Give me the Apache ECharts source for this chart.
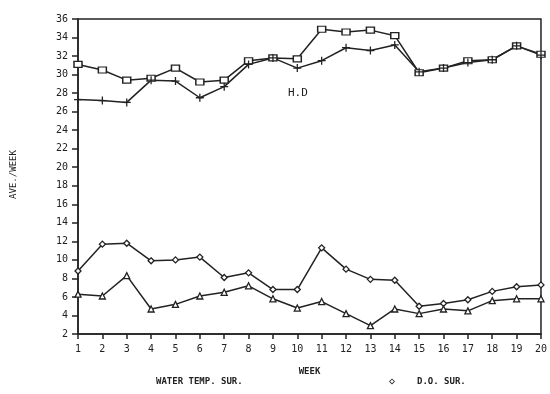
<!DOCTYPE html>
<html>
<head>
<meta charset="utf-8">
<script src="https://cdn.jsdelivr.net/npm/echarts@6/dist/echarts.min.js"></script>
<style>html,body{margin:0;padding:0;background:#fff;}#c{width:550px;height:394px;}</style>
</head>
<body>
<div id="c"></div>
<script>
var weeks = [1,2,3,4,5,6,7,8,9,10,11,12,13,14,15,16,17,18,19,20];
var seriesSquare = [31.1,30.5,29.4,29.6,30.7,29.2,29.4,31.5,31.8,31.7,34.9,34.6,34.8,34.2,30.2,30.7,31.5,31.6,33.1,32.2];
var seriesCross = [27.3,27.2,27.0,29.4,29.3,27.5,28.7,31.1,31.8,30.7,31.5,32.9,32.6,33.2,30.3,30.7,31.3,31.6,33.1,32.1];
var doSur = [8.8,11.7,11.8,9.9,10.0,10.3,8.1,8.6,6.8,6.8,11.3,9.0,7.9,7.8,5.0,5.3,5.7,6.6,7.1,7.3];
var waterTempSur = [6.3,6.1,8.3,4.7,5.2,6.1,6.5,7.2,5.8,4.8,5.5,4.2,2.9,4.7,4.2,4.7,4.5,5.6,5.8,5.8];
var yTicks = [2,4,6,8,10,12,14,16,18,20,22,24,26,28,30,32,34,36];

function pairs(arr){ return weeks.map(function(w,i){ return [w, arr[i]]; }); }
var font = '"DejaVu Sans Mono", "Liberation Mono", monospace';
var ink = '#222';
var lineStyle = {color: ink, width: 1.5};
var plus = 'path://M4.2,0H5.8V4.2H10V5.8H5.8V10H4.2V5.8H0V4.2H4.2Z';

var chart = echarts.init(document.getElementById('c'), null, {renderer:'canvas'});
chart.setOption({
  animation: false,
  backgroundColor: '#fff',
  grid: {left: 78, top: 19, right: 9, bottom: 60, show: true, borderColor: ink, borderWidth: 1.5, backgroundColor: 'transparent'},
  xAxis: {
    type: 'value', min: 1, max: 20, interval: 1,
    name: 'WEEK', nameLocation: 'middle', nameGap: 33,
    nameTextStyle: {fontFamily: font, fontSize: 9, color: ink, fontWeight: 'bold'},
    axisLine: {lineStyle: {color: ink, width: 1.5}},
    axisTick: {length: 5, lineStyle: {color: ink, width: 1.5}},
    axisLabel: {fontFamily: font, fontSize: 10, color: ink, margin: 10},
    splitLine: {show: false}
  },
  yAxis: {
    type: 'value', min: 2, max: 36, interval: 2,
    name: 'AVE./WEEK', nameLocation: 'middle', nameGap: 60, nameRotate: 90,
    nameTextStyle: {fontFamily: font, fontSize: 9, color: ink, padding: [0, 0, 0, 4]},
    axisLine: {lineStyle: {color: ink, width: 1.5}},
    axisTick: {length: 6, lineStyle: {color: ink, width: 1.5}},
    axisLabel: {fontFamily: font, fontSize: 10, color: ink, margin: 10,
      formatter: function(v){ return yTicks.indexOf(v) >= 0 ? String(v) : ''; }},
    splitLine: {show: false}
  },
  series: [
    {name: 'upper square', type: 'line', data: pairs(seriesSquare), symbol: 'rect', symbolSize: [8,6],
     itemStyle: {color: '#fff', borderColor: ink, borderWidth: 1.3}, lineStyle: lineStyle},
    {name: 'upper cross', type: 'line', data: pairs(seriesCross), symbol: plus, symbolSize: 8,
     itemStyle: {color: ink}, lineStyle: lineStyle},
    {name: 'D.O. SUR.', type: 'line', data: pairs(doSur), symbol: 'diamond', symbolSize: 6,
     itemStyle: {color: '#fff', borderColor: ink, borderWidth: 1.3}, lineStyle: lineStyle},
    {name: 'WATER TEMP. SUR.', type: 'line', data: pairs(waterTempSur), symbol: 'triangle', symbolSize: 6,
     itemStyle: {color: '#fff', borderColor: ink, borderWidth: 1.3}, lineStyle: lineStyle}
  ],
  graphic: [
    {type: 'text', left: 288, top: 88, style: {text: 'H.D', font: '11px ' + font, fill: ink}},
    {type: 'text', left: 156, top: 377, style: {text: 'WATER TEMP. SUR.', font: 'bold 9px ' + font, fill: ink}},
    {type: 'text', left: 389, top: 376, style: {text: '◇', font: 'bold 10px ' + font, fill: ink}},
    {type: 'text', left: 417, top: 377, style: {text: 'D.O. SUR.', font: 'bold 9px ' + font, fill: ink}}
  ]
});
</script>
</body>
</html>
